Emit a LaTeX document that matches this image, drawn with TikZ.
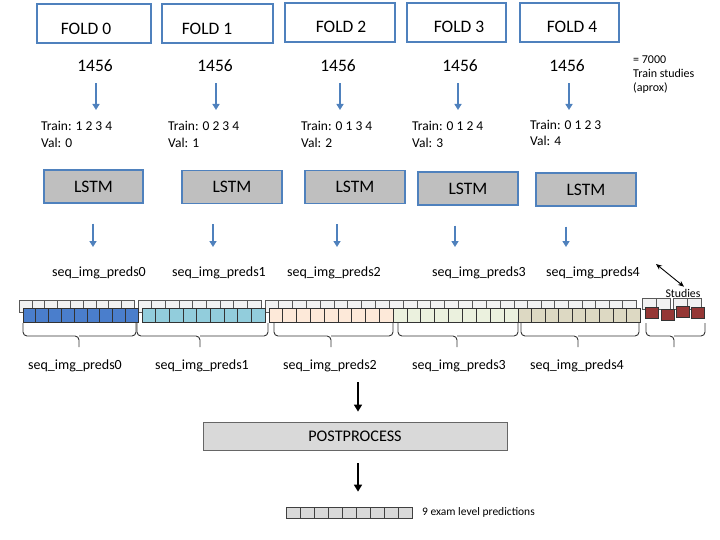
\documentclass[tikz,border=0pt]{standalone}
\usepackage{fontspec}
\setmainfont{Carlito}
\usetikzlibrary{arrows.meta,calc}
\definecolor{foldblue}{RGB}{79,129,189}
\definecolor{lstmgray}{RGB}{191,191,191}
\definecolor{postgray}{RGB}{217,217,217}
\definecolor{backgray}{RGB}{242,242,242}
\definecolor{cA}{RGB}{74,126,204}
\definecolor{cB}{RGB}{146,205,220}
\definecolor{cC}{RGB}{253,233,217}
\definecolor{cD}{RGB}{235,241,222}
\definecolor{cE}{RGB}{221,217,195}
\definecolor{cF}{RGB}{149,55,53}
\begin{document}
\begin{tikzpicture}[x=1pt,y=-1pt,
  foldbox/.style={draw=foldblue, line width=1.2pt, fill=white, minimum height=39pt, inner sep=0pt},
  bigtxt/.style={font=\fontsize{17.5}{21}\selectfont, inner sep=0pt},
  traintxt/.style={font=\fontsize{13.5}{16.5}\selectfont, align=left, anchor=west, inner sep=0pt},
  lstmbox/.style={draw=foldblue, line width=1.2pt, fill=lstmgray, minimum width=100pt, minimum height=33pt, inner sep=0pt, font=\fontsize{17.5}{21}\selectfont},
  predtxt/.style={font=\fontsize{14}{17}\selectfont, inner sep=0pt},
  smalltxt/.style={font=\fontsize{12}{14}\selectfont, inner sep=0pt, align=left},
  barrow/.style={draw=foldblue, line width=1.6pt, -{Triangle[length=6pt,width=7pt]}},
  karrow/.style={draw=black, line width=1.6pt, -{Triangle[length=7pt,width=8pt]}},
  cellback/.style={draw=black!65, fill=backgray, line width=0.6pt},
  cellfront/.style={draw=black!80, line width=0.7pt},
  bracepath/.style={draw=black!80, line width=0.9pt, rounded corners=4pt}]
\useasboundingbox (0,0) rectangle (720,540);

% fold boxes
\node[foldbox, minimum width=114pt, label={[bigtxt, xshift=-8pt, yshift=-5.5pt]center:FOLD 0}] (f0) at (94,23.5) {};
\node[foldbox, minimum width=111pt, label={[bigtxt, xshift=-10.5pt, yshift=-5.5pt]center:FOLD 1}] (f1) at (217.5,23.5) {};
\node[foldbox, minimum width=110pt, label={[bigtxt, xshift=1pt, yshift=-4.5pt]center:FOLD 2}] (f2) at (340,22.5) {};
\node[foldbox, minimum width=99pt, label={[bigtxt, xshift=2.5pt, yshift=-4.5pt]center:FOLD 3}] (f3) at (456.5,22.5) {};
\node[foldbox, minimum width=99pt, label={[bigtxt, xshift=2.5pt, yshift=-4.5pt]center:FOLD 4}] (f4) at (569.5,22.5) {};

% counts
\node[bigtxt] (n0) at (95,66) {1456};
\node[bigtxt] (n1) at (215,66) {1456};
\node[bigtxt] (n2) at (338,66) {1456};
\node[bigtxt] (n3) at (460,66) {1456};
\node[bigtxt] (n4) at (567,66) {1456};
\node[smalltxt, anchor=west] (tot) at (633,75) {= 7000\\Train studies\\(aprox)};

% train/val
\node[traintxt] (t0) at (41,134.5) {Train: 1 2 3 4\\Val: 0};
\node[traintxt] (t1) at (168,134.5) {Train: 0 2 3 4\\Val: 1};
\node[traintxt] (t2) at (301,134.5) {Train: 0 1 3 4\\Val: 2};
\node[traintxt] (t3) at (412,134.5) {Train: 0 1 2 4\\Val: 3};
\node[traintxt] (t4) at (530,133) {Train: 0 1 2 3\\Val: 4};

\foreach \k/\dx in {0/1,1/1,2/2,3/-2,4/2} {
  \draw[barrow, shorten <=11pt] ([xshift=\dx pt]n\k.south) -- ([xshift=\dx pt]n\k.south |- 0,110);
}

% LSTM
\node[lstmbox, minimum width=99pt] (L0) at (93.5,186.5) {LSTM};
\node[lstmbox] (L1) at (232,187) {LSTM};
\node[lstmbox] (L2) at (355,187) {LSTM};
\node[lstmbox] (L3) at (468,188.5) {LSTM};
\node[lstmbox] (L4) at (586,189.5) {LSTM};

% seq labels
\node[predtxt] (p0) at (99,273) {seq\_img\_preds0};
\node[predtxt] (p1) at (219,273) {seq\_img\_preds1};
\node[predtxt] (p2) at (334,273) {seq\_img\_preds2};
\node[predtxt] (p3) at (479,273) {seq\_img\_preds3};
\node[predtxt] (p4) at (593,273) {seq\_img\_preds4};

\foreach \k/\ax in {0/93,1/213,2/337,3/455,4/566} {
  \draw[barrow, shorten <=20pt] (\ax,0 |- L\k.south) -- (\ax,247);
}

% studies marker
\node[font=\fontsize{11.8}{14}\selectfont, inner sep=0pt] (st) at (683,293) {Studies};
\coordinate (da) at (656,264);
\draw[line width=0.9pt, {Stealth[length=6pt,width=5pt]}-{Stealth[length=6pt,width=5pt]}] (da) -- ([xshift=1pt,yshift=2pt]st.north);

% strip: back cells
\foreach \sx/\w in {23/12.8,142/13.67,269/13.78,393/13.9,518/13.56} {
  \foreach \i in {0,...,8} {
    \draw[cellback] ({\sx-4+\i*\w},300) rectangle ++(\w,12);
  }
}
\foreach \bx/\bw in {642/14,656/14,673/14,687/14} {
  \draw[cellback] (\bx,298) rectangle ++(\bw,11);
}
% strip: front cells
\foreach \sx/\w/\col in {23/12.8/cA,142/13.67/cB,269/13.78/cC,393/13.9/cD,518/13.56/cE} {
  \foreach \i in {0,...,8} {
    \draw[cellfront, fill=\col] ({\sx+\i*\w},308) rectangle ++(\w,14);
  }
}
\foreach \rx/\ry in {645/307,661/309,676/306,691/307} {
  \draw[cellfront, fill=cF] (\rx,\ry) rectangle ++(13.5,11);
}

% braces
\foreach \a/\m/\b in {23/79/136,137/200/268,274/331/393,398/457/518,521/578/639,646/674/705} {
  \draw[bracepath] (\a,323) |- (\m,336) -- (\m,347);
  \draw[bracepath] (\b,323) |- (\m,336);
}

% second labels
\node[predtxt] (q0) at (75,366) {seq\_img\_preds0};
\node[predtxt] (q1) at (202,366) {seq\_img\_preds1};
\node[predtxt] (q2) at (330,366) {seq\_img\_preds2};
\node[predtxt] (q3) at (459,366) {seq\_img\_preds3};
\node[predtxt] (q4) at (577,366) {seq\_img\_preds4};

% postprocess
\node[draw=black!60, fill=postgray, line width=0.8pt, minimum width=304pt, minimum height=28pt, inner sep=0pt, font=\fontsize{16.2}{19}\selectfont] (post) at (355,436) {POSTPROCESS};
\coordinate (kin) at (358,382);
\draw[karrow, shorten >=10pt] (kin) -- (kin |- post.north);

% output cells
\node[draw=black!75, fill=postgray, line width=0.7pt, minimum width=126pt, minimum height=11pt, inner sep=0pt] (out) at (349,512.5) {};
\foreach \i in {1,...,8} { \draw[draw=black!75, line width=0.7pt] (286+\i*14,507) -- ++(0,11); }
\draw[karrow, shorten <=13pt, shorten >=15pt] ([xshift=3pt]post.south) -- ([xshift=3pt]post.south |- out.north);
\node[anchor=west, font=\fontsize{11.5}{14}\selectfont, inner sep=0pt] (outl) at (422,512) {9 exam level predictions};
\end{tikzpicture}
\end{document}
